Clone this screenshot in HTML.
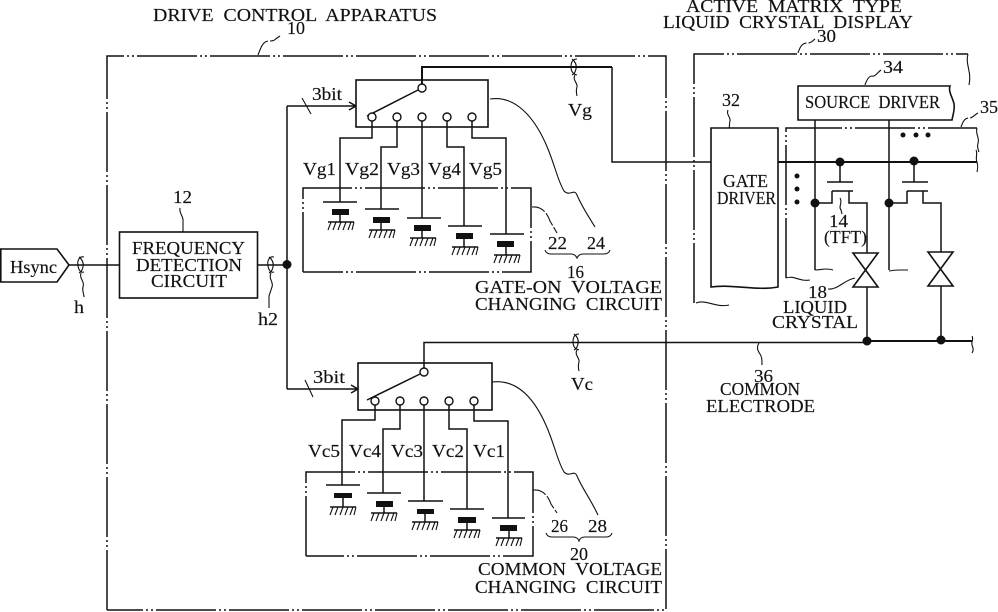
<!DOCTYPE html>
<html><head><meta charset="utf-8"><style>
html,body{margin:0;padding:0;background:#fff}
svg{display:block}
text{font-family:"Liberation Serif",serif;font-size:18px;fill:#111;stroke:#111;stroke-width:.15;white-space:pre}
.l{fill:none;stroke:#111;stroke-width:1.5}
.t{fill:none;stroke:#111;stroke-width:2}
.d{fill:none;stroke:#111;stroke-width:1.5;stroke-dasharray:60 3 2 3 2 3}
.f{fill:#fff;stroke:#111;stroke-width:1.6}
.s{fill:none;stroke:#111;stroke-width:1.1}
circle.o{fill:#fff;stroke:#111;stroke-width:1.4}
circle.b{fill:#111}
</style></head><body>
<svg width="998" height="612" viewBox="0 0 998 612" xmlns="http://www.w3.org/2000/svg" xml:space="preserve">
<defs>
<g id="g"><path class="l" d="M0 0H26"/><path class="s" d="M3 0L0 8M8 0L5 8M13 0L10 8M18 0L15 8M23 0L20 8M26 0L24 8"/></g>
</defs>
<rect width="998" height="612" fill="#fff"/>

<!-- outer boxes -->
<path class="d" d="M107 610V56H666V610H107"/>
<path class="d" d="M694 303V54H968"/>
<path class="s" d="M968 54c-3 10 4 18 1 31"/>
<path class="s" d="M696 303c10-4 20 5 33 2"/>

<!-- Hsync and frequency detection -->
<path class="f" d="M0.800 249H57L69 265L57 282H0.800Z"/>
<path class="l" d="M69 265H119"/>
<rect class="f" x="119.500" y="232" width="138" height="66"/>
<path class="l" d="M257 265H287"/>
<circle class="b" cx="287" cy="264.500" r="4.500"/>
<path class="l" d="M287 106V389"/>
<path class="l" d="M287 106H356M349 102L356 106L349 110"/>
<path class="l" d="M287 389H358M351 385L358 389L351 393"/>
<path class="s" d="M302 98L311 114M305 380L313 397"/>
<!-- rings -->
<path class="s" d="M84 257c-5-1-7 4-6 9s3 7 6 6M79 257c3 2 5 6 4 10s-2 5-4 6M81 273c-2 6 4 8 2 14c-1 4 1 7 1 10"/>
<path class="s" d="M274 257c-5-1-7 4-6 9s3 7 6 6M269 257c3 2 5 6 4 10s-2 5-4 6M271 273c-3 6 3 9 1 14l-3 9v12"/>
<path class="s" d="M577 59c-5 0-6 4-6 8s2 7 6 8M572 59c3 2 5 6 4 10s-2 5-4 6M575 75c-3 5 3 8 2 12c-1 3-1 5 0 9"/>
<path class="s" d="M579 334c-5 0-6 4-6 8s2 7 6 8M574 334c3 2 5 6 4 10s-2 5-4 6M577 350c-3 5 3 8 2 12c-1 3-1 5 0 9"/>

<!-- gate-on switch -->
<rect class="f" x="356" y="80" width="132" height="47"/>
<path class="t" d="M422 88V67H612"/>
<path class="l" d="M612 67V162H711"/>
<circle class="o" cx="422" cy="88" r="4"/>
<path class="l" d="M367 116L418 90"/>
<circle class="o" cx="372" cy="117" r="4"/><circle class="o" cx="397" cy="117" r="4"/><circle class="o" cx="422" cy="117" r="4"/><circle class="o" cx="447" cy="117" r="4"/><circle class="o" cx="472" cy="117" r="4"/>
<path class="l" d="M372 121V138H340V202M397 121V147H381V209M422 121V218M447 121V147H464V226M472 121V138H506V234"/>
<path class="d" d="M303 272V188H531V272H303"/>
<path class="l" d="M323 202H357M365 209H399M407 218H441M448 226H482M490 234H524"/>
<path class="l" d="M340 214V222M381 222V230M422 230V238M464 238V247M506 246V255"/>
<g fill="#111"><rect x="332" y="209" width="17" height="6"/><rect x="373" y="217" width="17" height="6"/><rect x="414" y="225" width="17" height="6"/><rect x="456" y="233" width="17" height="6"/><rect x="497" y="241" width="17" height="6"/></g>
<use href="#g" x="328" y="222"/><use href="#g" x="369" y="230"/><use href="#g" x="410" y="238"/><use href="#g" x="452" y="247"/><use href="#g" x="494" y="255"/>
<path class="s" d="M490 99c25-4 45 18 58 50c8 20 10 32 16 42c6 6 10-3 13 4c5 12 12 22 18 32"/>
<path class="s" d="M532 207c10-1 15 6 18 14l7 12" stroke-dasharray="14 2"/>
<path class="s" d="M545 250c1 3 3 4 6 4h20c3 0 5 2 6 4c1-2 3-4 6-4h21c3 0 5-1 6-4"/>

<!-- common switch -->
<rect class="f" x="358" y="363" width="134" height="47"/>
<path class="l" d="M424 372V342.500H866"/>
<path class="t" d="M866 341H972"/>
<circle class="o" cx="424" cy="372" r="4"/>
<path class="l" d="M367 400L420 374"/>
<circle class="o" cx="375" cy="401" r="4"/><circle class="o" cx="400" cy="401" r="4"/><circle class="o" cx="424" cy="401" r="4"/><circle class="o" cx="449" cy="401" r="4"/><circle class="o" cx="474" cy="401" r="4"/>
<path class="l" d="M375 405V420H342V485M400 405V429H383V493M424 405V501M449 405V429H467V509M474 405V421H508V518"/>
<path class="d" d="M306 556V472H533V556H306"/>
<path class="l" d="M326 485H360M367 493H401M408 501H443M450 509H484M492 518H525"/>
<path class="l" d="M343 497V507M384 505V513M425 514V522M467 522V530M509 530V538"/>
<g fill="#111"><rect x="334" y="493" width="18" height="5"/><rect x="376" y="501" width="17" height="6"/><rect x="417" y="509" width="17" height="5"/><rect x="458" y="517" width="18" height="6"/><rect x="500" y="525" width="17" height="6"/></g>
<use href="#g" x="330" y="507"/><use href="#g" x="371" y="513"/><use href="#g" x="412" y="522"/><use href="#g" x="454" y="530"/><use href="#g" x="496" y="538"/>
<path class="s" d="M492 382c25-3 43 16 56 48c8 20 10 32 16 42c6 6 10-3 13 4c5 12 14 24 21 39"/>
<path class="s" d="M533 490c10-1 15 6 18 14l6 9" stroke-dasharray="14 2"/>
<path class="s" d="M546 533c1 3 3 4 6 4h21c3 0 5 1 6 4c1-3 3-4 6-4h21c3 0 5-1 6-4"/>

<!-- display -->
<path class="f" d="M798 86H950c-2 6 3 12 4 18c1 6-1 10-2 16H798Z"/>
<path class="d" d="M786 278V128H977" stroke-dasharray="44 3 2 3"/>
<path class="s" d="M786 278c8-3 14 4 24 2"/>
<path class="s" d="M977 128c-2 6 3 10 1 15c-1 4 0 6 1 9"/>
<path class="f" d="M711 128H778V287c-20 4-45-3-67 0Z"/>
<path class="t" d="M778 162H977"/>
<path class="s" d="M976 150c2 4-1 8 1 12c1 4 1 6 0 10"/>
<path class="l" d="M815 120V270M889 120V270"/>
<path class="s" d="M815 270c5 0 8-1 10-1s5 0 8 1M889 271c5-1 8-1 10-1s5 0 9 0"/>
<circle class="b" cx="840" cy="162" r="4.500"/><circle class="b" cx="914" cy="161" r="4.500"/>
<circle class="b" cx="815" cy="203" r="4.500"/><circle class="b" cx="889" cy="203" r="4.500"/>
<circle class="b" cx="903" cy="135" r="2.500"/><circle class="b" cx="916" cy="135" r="2.500"/><circle class="b" cx="928" cy="135" r="2.500"/>
<circle class="b" cx="797" cy="176" r="2.500"/><circle class="b" cx="797" cy="189" r="2.500"/><circle class="b" cx="797" cy="202" r="2.500"/>
<path class="l" d="M840 162V182M827 182H853M832 191H853M832 191V203H815M849 191V203H867V253"/>
<path class="l" d="M914 162V182M902 182H928M907 191H928M907 191V203H889M923 191V203H941V252"/>
<path class="f" d="M853 253H878L853 287H878Z"/>
<path class="f" d="M928 252H953L928 286H953Z"/>
<path class="l" d="M867 287V341M941 286V341"/>
<circle class="b" cx="867" cy="341" r="4.500"/><circle class="b" cx="941" cy="340" r="4.500"/>
<path class="s" d="M972 336c2 3-1 6 0 9s2 5 0 8"/>
<path class="s" d="M840 198c3 5-2 8 1 12l1 4"/>
<path class="s" d="M828 289c10 1 16-9 27-11"/>
<path class="s" d="M258 55c3-8 5-14 11-14s5-1 8-3l3-2" stroke-dasharray="18 2"/>
<path class="s" d="M798 53c2-6 4-10 9-10s5-2 8-4" stroke-dasharray="14 2"/>
<path class="s" d="M865 85c2-6 4-9 7-9c3 1 5-3 9-6"/>
<path class="s" d="M728 110c-2 5 3 7 2 11c-1 3 0 5-1 7"/>
<path class="s" d="M961 127c2-6 4-9 8-9s5-3 9-5" stroke-dasharray="12 2"/>
<path class="s" d="M759 343c-3 5-1 8 1 11c2 3 2 6 2 11"/>
<path class="s" d="M180 208c-1 5 3 8 3 12c0 4 0 8 0 12"/>

<!-- text -->
<text x="153" y="21" textLength="284" lengthAdjust="spacingAndGlyphs">DRIVE  CONTROL  APPARATUS</text>
<text x="287" y="34" textLength="18" lengthAdjust="spacingAndGlyphs">10</text>
<text x="686" y="12" textLength="216" lengthAdjust="spacingAndGlyphs">ACTIVE  MATRIX  TYPE</text>
<text x="663" y="28" textLength="250" lengthAdjust="spacingAndGlyphs">LIQUID  CRYSTAL  DISPLAY</text>
<text x="817" y="42" textLength="19" lengthAdjust="spacingAndGlyphs">30</text>
<text x="883" y="73" textLength="20" lengthAdjust="spacingAndGlyphs">34</text>
<text x="722" y="106" textLength="18" lengthAdjust="spacingAndGlyphs">32</text>
<text x="980" y="113" textLength="18" lengthAdjust="spacingAndGlyphs">35</text>
<text x="805" y="108" textLength="135" lengthAdjust="spacingAndGlyphs">SOURCE  DRIVER</text>
<text x="723" y="187" textLength="45" lengthAdjust="spacingAndGlyphs">GATE</text>
<text x="717" y="204" textLength="59" lengthAdjust="spacingAndGlyphs">DRIVER</text>
<text x="829" y="227" textLength="19" lengthAdjust="spacingAndGlyphs">14</text>
<text x="824" y="243" textLength="43" lengthAdjust="spacingAndGlyphs">(TFT)</text>
<text x="808" y="298" textLength="19" lengthAdjust="spacingAndGlyphs">18</text>
<text x="783" y="313" textLength="64" lengthAdjust="spacingAndGlyphs">LIQUID</text>
<text x="772" y="328" textLength="86" lengthAdjust="spacingAndGlyphs">CRYSTAL</text>
<text x="754" y="382" textLength="19" lengthAdjust="spacingAndGlyphs">36</text>
<text x="720" y="395" textLength="80" lengthAdjust="spacingAndGlyphs">COMMON</text>
<text x="706" y="412" textLength="109" lengthAdjust="spacingAndGlyphs">ELECTRODE</text>
<text x="10" y="273" textLength="47" lengthAdjust="spacingAndGlyphs">Hsync</text>
<text x="132" y="254" textLength="113" lengthAdjust="spacingAndGlyphs">FREQUENCY</text>
<text x="136" y="271" textLength="106" lengthAdjust="spacingAndGlyphs">DETECTION</text>
<text x="151" y="287" textLength="76" lengthAdjust="spacingAndGlyphs">CIRCUIT</text>
<text x="173" y="203" textLength="19" lengthAdjust="spacingAndGlyphs">12</text>
<text x="74" y="313" textLength="10" lengthAdjust="spacingAndGlyphs">h</text>
<text x="258" y="325" textLength="20" lengthAdjust="spacingAndGlyphs">h2</text>
<text x="312" y="100" textLength="30" lengthAdjust="spacingAndGlyphs">3bit</text>
<text x="313" y="383" textLength="32" lengthAdjust="spacingAndGlyphs">3bit</text>
<text x="568" y="116" textLength="24" lengthAdjust="spacingAndGlyphs">Vg</text>
<text x="571" y="390" textLength="22" lengthAdjust="spacingAndGlyphs">Vc</text>
<text x="303" y="175" textLength="33" lengthAdjust="spacingAndGlyphs">Vg1</text>
<text x="345" y="175" textLength="34" lengthAdjust="spacingAndGlyphs">Vg2</text>
<text x="387" y="175" textLength="33" lengthAdjust="spacingAndGlyphs">Vg3</text>
<text x="428" y="175" textLength="33" lengthAdjust="spacingAndGlyphs">Vg4</text>
<text x="469" y="175" textLength="33" lengthAdjust="spacingAndGlyphs">Vg5</text>
<text x="308" y="457" textLength="32" lengthAdjust="spacingAndGlyphs">Vc5</text>
<text x="349" y="457" textLength="32" lengthAdjust="spacingAndGlyphs">Vc4</text>
<text x="391" y="457" textLength="32" lengthAdjust="spacingAndGlyphs">Vc3</text>
<text x="432" y="457" textLength="32" lengthAdjust="spacingAndGlyphs">Vc2</text>
<text x="473" y="457" textLength="32" lengthAdjust="spacingAndGlyphs">Vc1</text>
<text x="548" y="249" textLength="19" lengthAdjust="spacingAndGlyphs">22</text>
<text x="587" y="249" textLength="18" lengthAdjust="spacingAndGlyphs">24</text>
<text x="567" y="278" textLength="17" lengthAdjust="spacingAndGlyphs">16</text>
<text x="475" y="293" textLength="187" lengthAdjust="spacingAndGlyphs">GATE-ON  VOLTAGE</text>
<text x="475" y="310" textLength="187" lengthAdjust="spacingAndGlyphs">CHANGING  CIRCUIT</text>
<text x="551" y="532" textLength="17" lengthAdjust="spacingAndGlyphs">26</text>
<text x="588" y="532" textLength="19" lengthAdjust="spacingAndGlyphs">28</text>
<text x="570" y="560" textLength="18" lengthAdjust="spacingAndGlyphs">20</text>
<text x="478" y="575" textLength="184" lengthAdjust="spacingAndGlyphs">COMMON  VOLTAGE</text>
<text x="475" y="593" textLength="187" lengthAdjust="spacingAndGlyphs">CHANGING  CIRCUIT</text>
</svg>
</body></html>
